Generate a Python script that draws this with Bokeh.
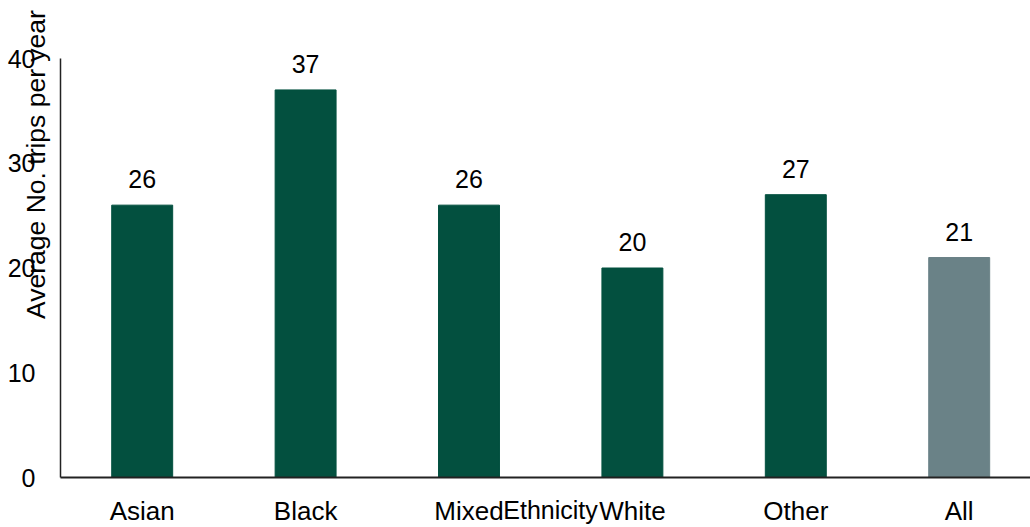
import math
from bokeh.plotting import figure
from bokeh.models import Range1d, FixedTicker, ColumnDataSource, Label
from bokeh.core.properties import value
from bokeh.embed import file_html
from bokeh.resources import INLINE

categories = ["Asian", "Black", "Mixed", "White", "Other", "All"]
trips = [26, 37, 26, 20, 27, 21]
bar_colors = ["#03503F", "#03503F", "#03503F", "#03503F", "#03503F", "#6A8287"]
y_ticks = [0, 10, 20, 30, 40]

FONT = "Liberation Sans"
W, H = 1030, 527
# plot area in pixels (axes origin at px 60, 477; 40 at px 58)
X0, Y0, YTOP = 60, 477, 58
px_per_cat = 163.4
px_per_y = (Y0 - YTOP) / 40.0

xs = [i + 0.5 for i in range(len(categories))]
src = ColumnDataSource(dict(x=xs, top=trips, color=bar_colors,
                            lbl=[str(v) for v in trips]))

x_range = Range1d(-X0 / px_per_cat, (W - X0) / px_per_cat)
y_range = Range1d(-(H - Y0) / px_per_y, 40 + YTOP / px_per_y)

p = figure(width=W, height=H, output_backend="svg", toolbar_location=None,
           x_range=x_range, y_range=y_range,
           min_border_left=0, min_border_right=0, min_border_top=0,
           min_border_bottom=0)
p.outline_line_color = None
p.xgrid.visible = False
p.ygrid.visible = False
p.background_fill_color = "white"

p.vbar(x="x", top="top", width=0.373, bottom=0, color="color", source=src)
p.text(x="x", y="top", text="lbl", source=src, text_align="center",
       text_baseline="alphabetic", y_offset=-26, text_font=value(FONT),
       text_font_size="25px", text_color="#000000")

xa = p.xaxis[0]
xa.fixed_location = 0
xa.bounds = (0, (W - X0) / px_per_cat)
xa.ticker = FixedTicker(ticks=xs)
xa.major_label_overrides = {x: c for x, c in zip(xs, categories)}
xa.major_tick_line_color = None
xa.major_tick_out = 0
xa.minor_tick_line_color = None
xa.major_label_standoff = 18
xa.major_label_text_font = FONT
xa.major_label_text_font_size = "26px"
xa.major_label_text_color = "#000000"
xa.axis_line_color = "#222222"
xa.axis_line_width = 2

ya = p.yaxis[0]
ya.fixed_location = 0
ya.bounds = (0, 40)
ya.ticker = FixedTicker(ticks=y_ticks)
ya.major_tick_line_color = None
ya.major_tick_out = 0
ya.minor_tick_line_color = None
ya.major_label_standoff = 25
ya.major_label_text_font = FONT
ya.major_label_text_font_size = "25px"
ya.major_label_text_color = "#000000"
ya.axis_line_color = "#222222"
ya.axis_line_width = 1.5

p.add_layout(Label(x=35, y=164, x_units="canvas", y_units="canvas",
                   text="Average No. trips per year", angle=math.pi / 2,
                   text_align="center", text_baseline="middle",
                   text_font=FONT, text_font_size="26.5px", text_color="#000000"))
p.add_layout(Label(x=550, y=509, x_units="canvas", y_units="canvas",
                   text="Ethnicity", text_align="center", text_baseline="alphabetic",
                   text_font=FONT, text_font_size="25px", text_color="#000000"))

open("out.html", "w").write(file_html(p, INLINE))
